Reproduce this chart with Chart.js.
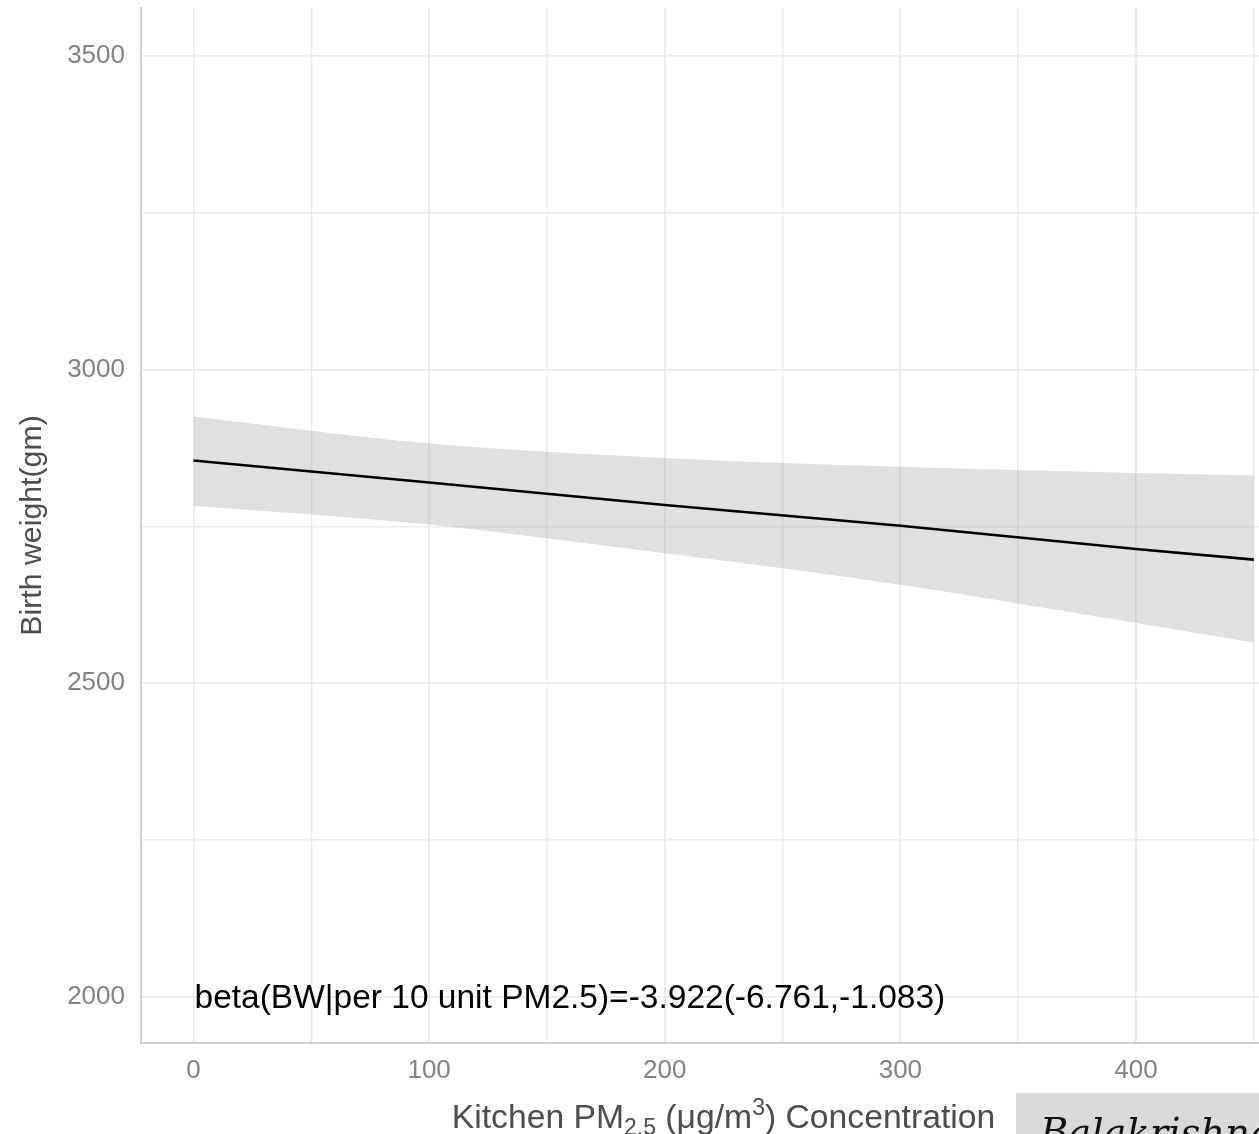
<!DOCTYPE html>
<html>
<head>
<meta charset="utf-8">
<title>Birth weight vs kitchen PM2.5</title>
<script src="https://cdn.jsdelivr.net/npm/chart.js@4/dist/chart.umd.min.js"></script>
<style>
  html, body { margin: 0; padding: 0; background: #ffffff; overflow: hidden; }
  #wrap { position: relative; width: 1259px; height: 1134px; }
</style>
</head>
<body>
<div id="wrap"><canvas id="bw"></canvas></div>
<script>
// Kitchen PM2.5 concentration (µg/m³) at which the fit is evaluated
const pmLevels = [0, 100, 200, 300, 400, 450];
// Fitted birth weight (gm) and its 95% confidence band
const fitBW   = [2855, 2820, 2784, 2751, 2714, 2697];
const upperCI = [2925, 2882, 2859, 2845, 2835, 2831];
const lowerCI = [2783, 2753, 2707, 2657, 2596, 2565];

// Grid positions (major + minor) and labelled ticks
const xGridValues = [0, 50, 100, 150, 200, 250, 300, 350, 400, 450];
const yGridValues = [2000, 2250, 2500, 2750, 3000, 3250, 3500];
const xTickLabels = [0, 100, 200, 300, 400];
const yTickLabels = [2000, 2500, 3000, 3500];

const betaText = 'beta(BW|per 10 unit PM2.5)=-3.922(-6.761,-1.083)';
const betaAnchor = { x: 0, y: 2000 };

const SANS = '"Liberation Sans", Arial, Helvetica, sans-serif';

const toXY = (ys) => pmLevels.map((x, i) => ({ x: x, y: ys[i] }));

// keep the plot area flush with the layout box (no extra room for edge labels)
const noEdgePadding = (scale) => {
  scale.paddingTop = 0; scale.paddingBottom = 0;
  scale.paddingLeft = 0; scale.paddingRight = 0;
};

// Draws the annotation, the x-axis title (with sub/superscript) and the caption box
const overlayPlugin = {
  id: 'overlay',
  afterDraw(chart) {
    const ctx = chart.ctx;
    const xs = chart.scales.x, ys = chart.scales.y;

    // regression estimate inside the plot
    ctx.save();
    ctx.fillStyle = '#000000';
    ctx.font = '33.5px ' + SANS;
    ctx.textAlign = 'left';
    ctx.textBaseline = 'alphabetic';
    ctx.fillText(betaText, xs.getPixelForValue(betaAnchor.x) + 1, ys.getPixelForValue(betaAnchor.y) + 11);
    ctx.restore();

    // x-axis title: Kitchen PM2.5 (µg/m3) Concentration
    const big = 33.7, small = 23;
    const parts = [
      { t: 'Kitchen PM', s: big, dy: 0 },
      { t: '2.5', s: small, dy: 7 },
      { t: ' (\u03bcg/m', s: big, dy: 0 },
      { t: '3', s: small, dy: -13 },
      { t: ') Concentration', s: big, dy: 0 }
    ];
    ctx.save();
    ctx.fillStyle = '#4d4d4d';
    ctx.textBaseline = 'alphabetic';
    ctx.textAlign = 'left';
    let total = 0;
    parts.forEach(p => { ctx.font = p.s + 'px ' + SANS; p.w = ctx.measureText(p.t).width; total += p.w; });
    let cx = 723.5 - total / 2;
    const base = 1128;
    parts.forEach(p => {
      ctx.font = p.s + 'px ' + SANS;
      ctx.fillText(p.t, cx, base + p.dy);
      cx += p.w;
    });
    ctx.restore();

    // caption box in the lower right corner
    ctx.save();
    ctx.fillStyle = '#d9d9d9';
    ctx.fillRect(1016, 1093, 260, 60);
    ctx.fillStyle = '#111111';
    ctx.font = 'italic 38.5px "DejaVu Serif", serif';
    ctx.textAlign = 'left';
    ctx.textBaseline = 'alphabetic';
    ctx.fillText('Balakrishnan', 1040, 1146);
    ctx.restore();
  }
};

const gridColor = '#ebebeb';

new Chart(document.getElementById('bw'), {
  type: 'line',
  data: {
    datasets: [
      {
        label: 'Fitted',
        data: toXY(fitBW),
        borderColor: '#000000',
        borderWidth: 2.6,
        pointRadius: 0,
        fill: false,
        tension: 0
      },
      {
        label: 'Lower 95% CI',
        data: toXY(lowerCI),
        borderWidth: 0,
        borderColor: 'rgba(0,0,0,0)',
        pointRadius: 0,
        cubicInterpolationMode: 'monotone',
        fill: false
      },
      {
        label: 'Upper 95% CI',
        data: toXY(upperCI),
        borderWidth: 0,
        borderColor: 'rgba(0,0,0,0)',
        backgroundColor: 'rgba(153,153,153,0.3)',
        pointRadius: 0,
        cubicInterpolationMode: 'monotone',
        fill: '-1'
      }
    ]
  },
  options: {
    responsive: true,
    maintainAspectRatio: false,
    animation: false,
    events: [],
    layout: { padding: { top: 8, right: 0, left: 0, bottom: 0 } },
    plugins: {
      legend: { display: false },
      tooltip: { enabled: false }
    },
    scales: {
      x: {
        type: 'linear',
        min: -22.28,
        max: 452.2,
        afterBuildTicks: (scale) => { scale.ticks = xGridValues.map(v => ({ value: v })); },
        afterFit: (scale) => { scale.height = 91; noEdgePadding(scale); },
        grid: {
          color: gridColor,
          lineWidth: (c) => (c.tick && xTickLabels.includes(c.tick.value)) ? 1.8 : 1.4,
          drawTicks: false
        },
        border: { display: true, color: '#cfcfcf', width: 2 },
        ticks: {
          autoSkip: false,
          maxRotation: 0,
          padding: 12,
          color: '#828282',
          font: { family: SANS, size: 26 },
          callback: (v) => xTickLabels.includes(v) ? String(v) : ''
        },
        title: { display: false }
      },
      y: {
        type: 'linear',
        min: 1926.7,
        max: 3576,
        afterBuildTicks: (scale) => { scale.ticks = yGridValues.map(v => ({ value: v })); },
        afterFit: (scale) => { scale.width = 141; noEdgePadding(scale); },
        grid: {
          color: gridColor,
          lineWidth: (c) => (c.tick && yTickLabels.includes(c.tick.value)) ? 1.8 : 1.4,
          drawTicks: false
        },
        border: { display: true, color: '#cfcfcf', width: 2 },
        ticks: {
          autoSkip: false,
          padding: 16,
          color: '#828282',
          font: { family: SANS, size: 26 },
          callback: (v) => yTickLabels.includes(v) ? String(v) : ''
        },
        title: {
          display: true,
          text: 'Birth weight(gm)',
          color: '#4d4d4d',
          font: { family: SANS, size: 30.3 },
          padding: { top: 14, bottom: 0 }
        }
      }
    }
  },
  plugins: [overlayPlugin]
});
</script>
</body>
</html>
